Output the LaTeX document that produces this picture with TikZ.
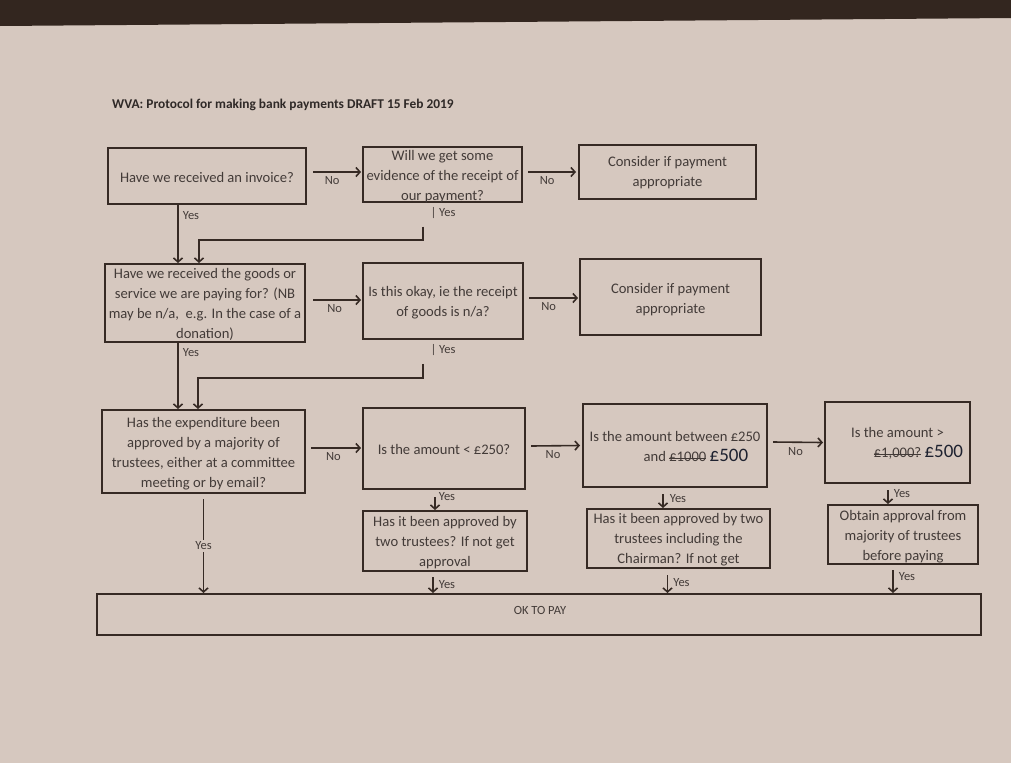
\documentclass[tikz,border=0pt]{standalone}
\usepackage{fontspec}
\setmainfont{Carlito}
\usetikzlibrary{arrows.meta}
\usetikzlibrary{positioning}

\definecolor{paper}{HTML}{D6C8BF}
\definecolor{desk}{HTML}{33261F}
\definecolor{ink}{HTML}{362A24}
\definecolor{print}{HTML}{433B38}
\definecolor{pen}{HTML}{1E2230}

\newcommand{\penfive}[1]{{\color{pen}\fontsize{19}{20}\selectfont #1}}
\newsavebox{\crossbox}
\newcommand{\crossout}[1]{\sbox{\crossbox}{#1}\rlap{\rule[0.3ex]{\wd\crossbox}{0.6pt}}\usebox{\crossbox}}

\begin{document}
\begin{tikzpicture}[x=1pt, y=-1pt,
    qbox/.style={draw=ink, line width=2pt, inner sep=0pt},
    qtext/.style={text=print, align=center, inner sep=0pt, font=\fontsize{14.6}{20}\selectfont},
    lab/.style={text=print, inner sep=1pt, font=\fontsize{12.5}{12}\selectfont},
    arr/.style={draw=ink, line width=1.6pt, -{Straight Barb[length=4pt,width=9pt]}}]

    % paper and desk
    \fill[paper] (0,0) rectangle (1011,763);
    \fill[desk] (0,0) -- (1011,0) -- (1011,18) -- (0,26) -- cycle;
    \useasboundingbox (0,0) rectangle (1011,763);

    \node[anchor=west, text=print!70!black, inner sep=0pt, font=\bfseries\fontsize{13.4}{14}\selectfont] (title) at (112,105) {WVA: Protocol for making bank payments DRAFT 15 Feb 2019};

    % boxes
    \node[qbox, minimum width=198pt, minimum height=56pt] (A) at (207,176) {};
    \node[qbox, minimum width=159pt, minimum height=55pt] (B) at (442.5,174.5) {};
    \node[qbox, minimum width=177pt, minimum height=54pt] (C) at (667.5,172) {};
    \node[qbox, minimum width=200pt, minimum height=78pt] (D) at (205,303) {};
    \node[qbox, minimum width=160pt, minimum height=76pt] (E) at (443,301) {};
    \node[qbox, minimum width=181pt, minimum height=76pt] (F) at (670.5,297) {};
    \node[qbox, minimum width=203pt, minimum height=83pt] (G) at (203.5,451.5) {};
    \node[qbox, minimum width=162pt, minimum height=81pt] (H) at (444,448.5) {};
    \node[qbox, minimum width=184pt, minimum height=83pt] (I) at (675,445.5) {};
    \node[qbox, minimum width=145pt, minimum height=81pt] (J) at (897.5,442.5) {};
    \node[qbox, minimum width=164pt, minimum height=60pt] (K) at (445,541) {};
    \node[qbox, minimum width=183pt, minimum height=59pt] (L) at (678.5,538.5) {};
    \node[qbox, minimum width=150pt, minimum height=59pt] (M) at (903,534.5) {};
    \node[qbox, minimum width=884pt, minimum height=41pt] (OK) at (539,614.5) {};

    % box texts
    \node[qtext] (At) at (207,177) {Have we received an invoice?};
    \node[qtext] (Bt) at (442.5,176.5) {Will we get some\\evidence of the receipt of\\our payment?};
    \node[qtext] (Ct) at (667.5,173) {Consider if payment\\appropriate};
    \node[qtext] (Dt) at (205,304) {Have we received the goods or\\service we are paying for? (NB\\may be n/a,\ \ e.g. In the case of a\\donation)};
    \node[qtext] (Et) at (443,303) {Is this okay, ie the receipt\\of goods is n/a?};
    \node[qtext] (Ft) at (670.5,299.5) {Consider if payment\\appropriate};
    \node[qtext] (Gt) at (203.5,453.5) {Has the expenditure been\\approved by a majority of\\trustees, either at a committee\\meeting or by email?};
    \node[qtext] (Ht) at (444,449) {Is the amount < £250?};
    \node[qtext] (It) at (675,446) {Is the amount between £250\\and \crossout{£1000}\rlap{ \penfive{£500}}};
    \node[qtext] (Jt) at (897.5,443) {Is the amount >\\\crossout{£1,000?}\rlap{ \penfive{£500}}};
    \node[qtext] (Kt) at (445,543) {Has it been approved by\\two trustees? If not get\\approval};
    \node[qtext] (Lt) at (678.5,539.5) {Has it been approved by two\\trustees including the\\Chairman? If not get};
    \node[qtext] (Mt) at (903,536.5) {Obtain approval from\\majority of trustees\\before paying};
    \node[lab] (OKt) at (540,610) {OK TO PAY};

    % No arrows
    \draw[arr] ([xshift=6pt,yshift=4pt]A.east) -- ([xshift=-1pt,yshift=2.5pt]B.west) node[lab, pos=0.4, below=3pt] {No};
    \draw[arr] ([xshift=5pt,yshift=2.5pt]B.east) -- ([xshift=-2pt]C.west) node[lab, pos=0.4, below=3pt] {No};
    \draw[arr] ([xshift=7pt,yshift=3pt]D.east) -- ([xshift=-1pt,yshift=1pt]E.west) node[lab, pos=0.45, below=3pt] {No};
    \draw[arr] ([xshift=5pt,yshift=3pt]E.east) -- ([xshift=-1pt,yshift=-1pt]F.west) node[lab, pos=0.4, below=3pt] {No};
    \draw[arr] ([xshift=5pt,yshift=3.5pt]G.east) -- ([xshift=-1pt,yshift=0.5pt]H.west) node[lab, pos=0.45, below=3pt] {No};
    \draw[arr] ([xshift=5pt,yshift=2.5pt]H.east) -- ([xshift=-2pt]I.west) node[lab, pos=0.45, below=3pt] {No};
    \draw[arr] ([xshift=5pt,yshift=3.5pt]I.east) -- ([xshift=-1pt]J.west) node[lab, pos=0.45, below=3pt] {No};

    % Yes arrows down the left
    \draw[arr] ([xshift=-29pt]A.south) -- ([xshift=-27pt]D.north) node[lab, pos=0.18, right=3pt] {Yes};
    \node[lab] (yB) at (443,213) {| Yes};
    \draw[arr] ([xshift=-20pt,yshift=-7pt]yB.south) -- ++(0,13) -| ([xshift=-6pt]D.north);
    \draw[arr] ([xshift=-27pt]D.south) -- ([xshift=-25.5pt]G.north) node[lab, pos=0.15, right=3pt] {Yes};
    \node[lab] (yE) at (443,350) {| Yes};
    \draw[arr] ([xshift=-20pt,yshift=-7pt]yE.south) -- ++(0,14) -| ([xshift=-5.5pt]G.north);
    \draw[arr] ([yshift=-5pt]G.south) -- (G.south |- OK.north) node[lab, pos=0.5, fill=paper, inner sep=2pt] {Yes};

    % Yes arrows to the approval boxes
    \draw[arr] ([xshift=-9pt,yshift=-7pt]H.south) -- ([xshift=-10pt]K.north) node[lab, at start, anchor=west, xshift=2pt] {Yes};
    \draw[arr] ([xshift=-12pt,yshift=-6pt]I.south) -- ([xshift=-15.5pt]L.north) node[lab, pos=0.3, anchor=west, xshift=5pt] {Yes};
    \draw[arr] ([xshift=-9.5pt,yshift=-6pt]J.south) -- ([xshift=-15pt]M.north) node[lab, pos=0.25, anchor=west, xshift=4pt] {Yes};

    % Yes arrows into OK TO PAY
    \draw[arr] ([xshift=-12pt,yshift=-5pt]K.south) -- ([xshift=-12pt]K.south |- OK.north) node[lab, pos=0.5, anchor=west, xshift=4pt] {Yes};
    \draw[arr] ([xshift=-11pt,yshift=-6pt]L.south) -- ([xshift=-11pt]L.south |- OK.north) node[lab, pos=0.4, anchor=west, xshift=4pt] {Yes};
    \draw[arr] ([xshift=-10pt,yshift=-5pt]M.south) -- ([xshift=-10pt]M.south |- OK.north) node[lab, pos=0.3, anchor=west, xshift=4pt] {Yes};
\end{tikzpicture}
\end{document}
